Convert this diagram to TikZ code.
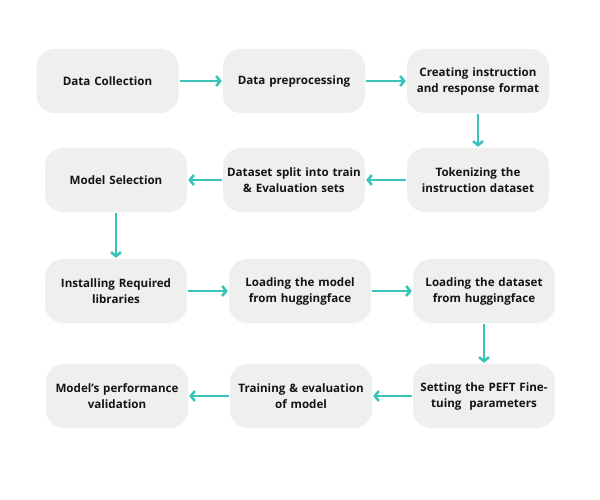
\documentclass[tikz,border=0pt]{standalone}
\usepackage{fontspec}
\setmainfont{Open Sans}
\usetikzlibrary{arrows.meta}
\definecolor{boxgray}{RGB}{239,239,239}
\definecolor{flowteal}{RGB}{56,196,185}
\definecolor{inkblack}{RGB}{20,20,20}
\tikzset{
	>={Straight Barb[length=4pt,width=10pt]},
	stepbox/.style={
		rectangle, 
		rounded corners=18pt,
		fill=boxgray,
		text=inkblack,
		inner sep=1pt,
		text width=140pt, 
		minimum width=142pt,
		minimum height=64pt, 
		align=center,
		font=\bfseries\fontsize{11.6}{16}\selectfont},
	flow/.style={draw=flowteal, line width=2.6pt, ->, shorten >=1pt, shorten <=1pt},
}

\begin{document}
\begin{tikzpicture}[x=1pt, y=-1pt]
	\useasboundingbox (0,0) rectangle (600,500);
	% first row, left to right
	\node[stepbox] (a) at (107.5,81) {Data Collection};
	\node[stepbox] (b) at (294,81) {Data preprocessing};
	\node[stepbox] (c) at (478,81) {Creating instruction\\and response format};
	% second row, right to left
	\node[stepbox] (d) at (478,180) {Tokenizing the\\instruction dataset};
	\node[stepbox] (e) at (294,180) {Dataset split into train\\\& Evaluation sets};
	\node[stepbox] (f) at (116,180) {Model Selection};
	% third row
	\node[stepbox] (g) at (116,291) {Installing Required\\libraries};
	\node[stepbox] (h) at (300,291) {Loading the model\\from huggingface};
	\node[stepbox] (i) at (484,291) {Loading the dataset\\from huggingface};
	% last row
	\node[stepbox] (j) at (484,396) {Setting the PEFT Fine-\\tuing~~parameters};
	\node[stepbox] (k) at (301,396) {Training \& evaluation\\of model};
	\node[stepbox] (l) at (117,396) {Model’s performance\\validation};

	\draw[flow] (a) -- (b);
	\draw[flow] (b) -- (c);
	\draw[flow] (c) -- (d);
	\draw[flow] (d) -- (e);
	\draw[flow] (e) -- (f);
	\draw[flow] (f) -- (g);
	\draw[flow] (g) -- (h);
	\draw[flow] (h) -- (i);
	\draw[flow] (i) -- (j);
	\draw[flow] (j) -- (k);
	\draw[flow] (k) -- (l);
\end{tikzpicture}
\end{document}
